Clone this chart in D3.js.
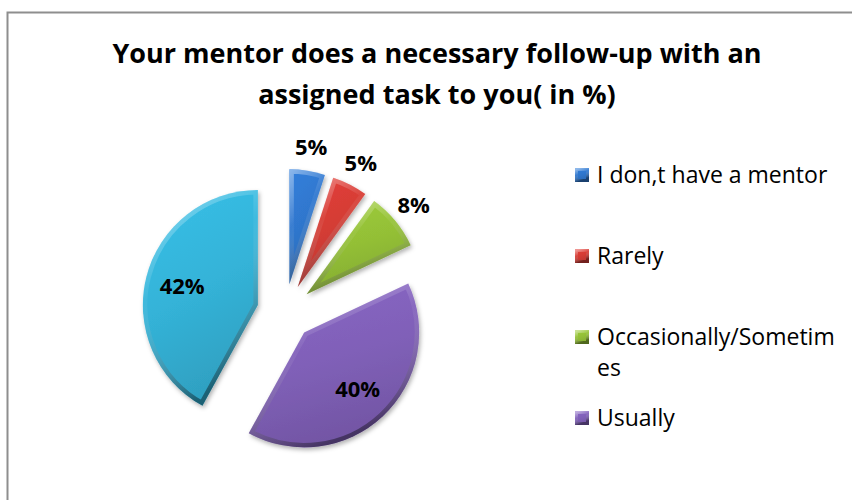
<!DOCTYPE html>
<meta charset="utf-8">
<head>
<style>
  body { margin: 0; background: #fff; }
  svg { font-family: 'Open Sans', sans-serif; display: block; }
</style>
</head>
<body>
<svg width="852" height="500"></svg>
<script src="https://d3js.org/d3.v7.min.js"></script>
<script>
// data
const categories = ["I don,t have a mentor", "Rarely", "Occasionally/Sometimes", "Usually", "Always"];
const values = [5, 5, 8, 40, 42];
const colors = ["#2f76cc", "#d43c35", "#93bf36", "#8060b8", "#34b3d8"];
const titleLines = ["Your mentor does a necessary follow-up with an", "assigned task to you( in %)"];

const svg = d3.select("svg"),
      width = +svg.attr("width"),
      height = +svg.attr("height");
const defs = svg.append("defs");

// chart frame (runs off the right and bottom edge)
svg.append("rect")
  .attr("x", 7.5).attr("y", 12.5)
  .attr("width", 900).attr("height", 600)
  .attr("fill", "#fff")
  .attr("stroke", "#8e8e8e")
  .attr("stroke-width", 2);

// soft shadow + bevel gradient
const shadow = defs.append("filter").attr("id", "shadow")
  .attr("x", "-20%").attr("y", "-20%").attr("width", "150%").attr("height", "150%");
shadow.append("feDropShadow")
  .attr("dx", 1.5).attr("dy", 2.5).attr("stdDeviation", 2)
  .attr("flood-color", "#000").attr("flood-opacity", 0.3);

const bevel = defs.append("linearGradient").attr("id", "bevel")
  .attr("x1", 0).attr("y1", 0).attr("x2", 0.4).attr("y2", 1);
bevel.append("stop").attr("offset", 0).attr("stop-color", "#fff").attr("stop-opacity", 0.45);
bevel.append("stop").attr("offset", 0.45).attr("stop-color", "#fff").attr("stop-opacity", 0.05);
bevel.append("stop").attr("offset", 1).attr("stop-color", "#000").attr("stop-opacity", 0.4);

colors.forEach((c, i) => {
  const g = defs.append("linearGradient").attr("id", "face" + i)
    .attr("x1", 0).attr("y1", 0).attr("x2", 0.3).attr("y2", 1);
  g.append("stop").attr("offset", 0).attr("stop-color", d3.color(c).brighter(0.2));
  g.append("stop").attr("offset", 0.55).attr("stop-color", c);
  g.append("stop").attr("offset", 1).attr("stop-color", d3.color(c).darker(0.3));
});

// title
svg.append("text")
  .attr("x", 437).attr("y", 63)
  .attr("text-anchor", "middle")
  .style("font-weight", "bold")
  .style("font-size", "27px")
  .attr("fill", "#000")
  .selectAll("tspan")
  .data(titleLines)
  .enter().append("tspan")
    .attr("x", 437)
    .attr("dy", (d, i) => i ? 41 : 0)
    .text(d => d);

// pie
const data = categories.map((c, i) => ({name: c, value: values[i], color: colors[i], i: i}));
const cx = 285, cy = 312, R = 115, explode = 28;

const pie = d3.pie().sort(null).value(d => d.value);
const arc = d3.arc().innerRadius(0).outerRadius(R);
const midA = d => (d.startAngle + d.endAngle) / 2;
const polar = (a, k) => [Math.sin(a) * k, -Math.cos(a) * k];

const slices = svg.append("g")
  .attr("transform", `translate(${cx},${cy})`)
  .selectAll(".slice")
  .data(pie(data))
  .enter().append("g")
    .attr("class", "slice")
    .attr("transform", d => `translate(${polar(midA(d), explode)})`);

slices.append("clipPath")
  .attr("id", d => "clip" + d.data.i)
  .append("path").attr("d", arc);

slices.append("path")
  .attr("d", arc)
  .attr("fill", d => `url(#face${d.data.i})`)
  .attr("filter", "url(#shadow)");

slices.append("path")
  .attr("d", arc)
  .attr("fill", "none")
  .attr("stroke", "url(#bevel)")
  .attr("stroke-width", 9)
  .attr("stroke-linejoin", "round")
  .attr("clip-path", d => `url(#clip${d.data.i})`);

slices.append("text")
  .attr("transform", d => {
    const k = d.data.value >= 20 ? R * 0.68 : R + 24;
    return `translate(${polar(midA(d), k)})`;
  })
  .attr("text-anchor", "middle")
  .attr("dy", "0.36em")
  .style("font-weight", "bold")
  .style("font-size", "22px")
  .attr("fill", "#000")
  .text(d => d.data.value + "%");

// legend (entries that do not fit are dropped, like the original)
const lgX = 575, lgSize = 14, lgTextX = 597, lgTop = 175, lgStep = 81, lineH = 31, maxW = 245;

const legend = svg.append("g").style("font-size", "23px");

function wrapText(str) {
  const probe = legend.append("text").attr("visibility", "hidden");
  const lines = [];
  let cur = "";
  for (const ch of str) {
    probe.text(cur + ch);
    if (cur && probe.node().getComputedTextLength() > maxW) {
      lines.push(cur);
      cur = ch;
    } else {
      cur += ch;
    }
  }
  lines.push(cur);
  probe.remove();
  return lines;
}

data.forEach((d, i) => {
  const y = lgTop + i * lgStep;
  if (y + 15 > height) return;
  const item = legend.append("g");
  item.append("rect")
    .attr("x", lgX).attr("y", y - lgSize / 2)
    .attr("width", lgSize).attr("height", lgSize)
    .attr("fill", `url(#face${i})`);
  item.append("rect")
    .attr("x", lgX + 1.5).attr("y", y - lgSize / 2 + 1.5)
    .attr("width", lgSize - 3).attr("height", lgSize - 3)
    .attr("fill", "none")
    .attr("stroke", "url(#bevel)")
    .attr("stroke-width", 3);
  const lines = wrapText(d.name);
  item.append("text")
    .attr("x", lgTextX).attr("y", y)
    .attr("fill", "#000")
    .selectAll("tspan")
    .data(lines)
    .enter().append("tspan")
      .attr("x", lgTextX)
      .attr("dy", (l, j) => j ? lineH : "0.36em")
      .text(l => l);
});
</script>
</body>
